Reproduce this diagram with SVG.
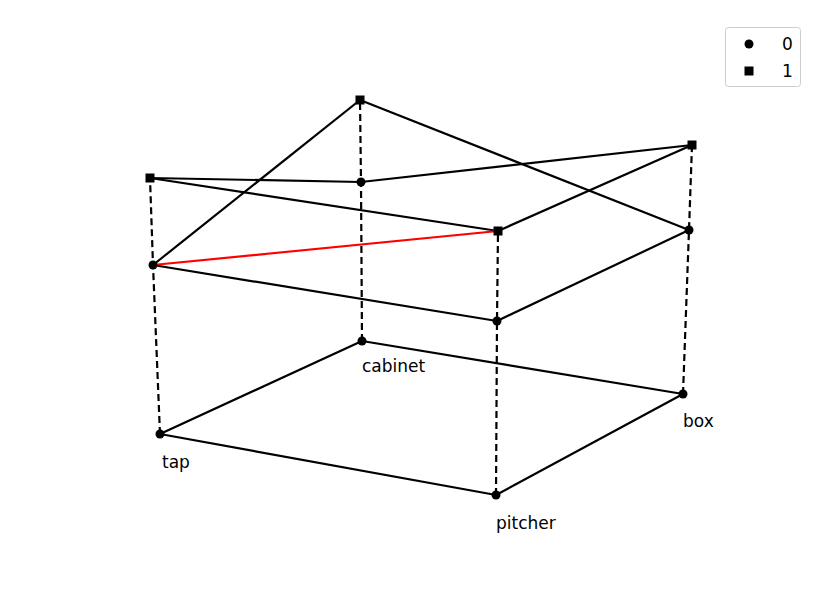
<svg xmlns="http://www.w3.org/2000/svg" width="830" height="595" viewBox="0 0 830 595">
<style>
.e{stroke:#000;stroke-width:2.2;fill:none}
.d{stroke:#000;stroke-width:2.2;stroke-dasharray:7,4;fill:none}
.r{stroke:#f00;stroke-width:2.2}
text{font-family:"DejaVu Sans",sans-serif;font-size:17px;fill:#000}
</style>
<rect width="830" height="595" fill="#fff"/>
<g id="connectors">
<line class="e" x1="160" y1="434" x2="362" y2="341"/>
<line class="e" x1="160" y1="434" x2="496" y2="495"/>
<line class="e" x1="496" y1="495" x2="683" y2="394"/>
<line class="e" x1="362" y1="341" x2="683" y2="394"/>
<polyline class="d" points="160,434 153,265 150,178"/>
<polyline class="d" points="362,341 361,182 360,100"/>
<polyline class="d" points="496,495 497,321 498,231"/>
<polyline class="d" points="683,394 689,230 692,145"/>
<line class="e" x1="153" y1="265" x2="497" y2="321"/>
<line class="e" x1="497" y1="321" x2="689" y2="230"/>
<line class="e" x1="153" y1="265" x2="360" y2="100"/>
<line class="e" x1="360" y1="100" x2="689" y2="230"/>
<line class="e" x1="150" y1="178" x2="361" y2="182"/>
<line class="e" x1="361" y1="182" x2="692" y2="145"/>
<line class="e" x1="150" y1="178" x2="498" y2="231"/>
<line class="e" x1="498" y1="231" x2="692" y2="145"/>
<line class="r" x1="153" y1="265" x2="498" y2="231"/>
</g>
<g id="cabinet"><circle cx="362" cy="341" r="4.5"/><circle cx="361" cy="182" r="4.5"/><rect x="355.5" y="95.5" width="9" height="9"/><text x="362" y="372">cabinet</text></g>
<g id="tap"><circle cx="160" cy="434" r="4.5"/><circle cx="153" cy="265" r="4.5"/><rect x="145.5" y="173.5" width="9" height="9"/><text x="162" y="468">tap</text></g>
<g id="pitcher"><circle cx="496" cy="495" r="4.5"/><circle cx="497" cy="321" r="4.5"/><rect x="493.5" y="226.5" width="9" height="9"/><text x="496" y="529">pitcher</text></g>
<g id="box"><circle cx="683" cy="394" r="4.5"/><circle cx="689" cy="230" r="4.5"/><rect x="687.5" y="140.5" width="9" height="9"/><text x="683" y="427">box</text></g>
<g id="legend">
<rect x="725.5" y="27.5" width="75" height="59" rx="3" fill="#fff" stroke="#ccc"/>
<circle cx="749" cy="44" r="4.5"/><text x="782" y="50">0</text>
<rect x="744.5" y="66.5" width="9" height="9"/><text x="782" y="77">1</text>
</g>
</svg>
